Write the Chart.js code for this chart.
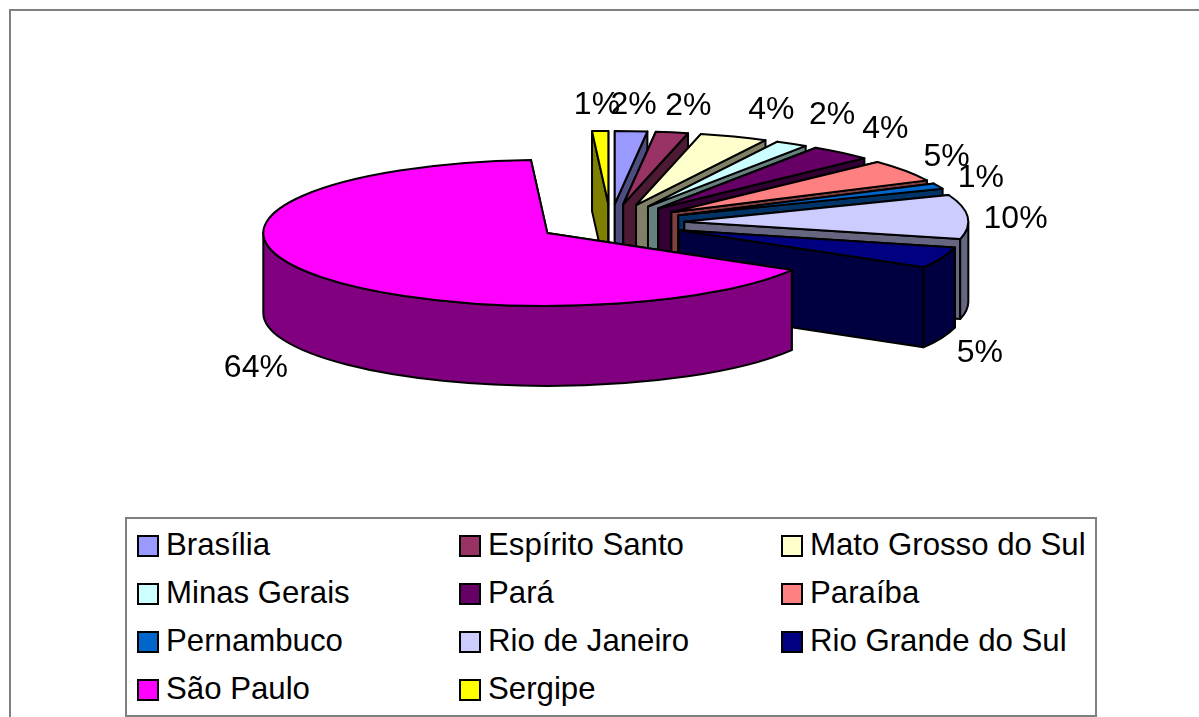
<!DOCTYPE html>
<html lang="pt">
<head>
<meta charset="utf-8">
<title>Pie by state</title>
<script src="https://cdn.jsdelivr.net/npm/chart.js@4/dist/chart.umd.min.js"></script>
<style>
  html, body { margin: 0; padding: 0; background: #fff; overflow: hidden; }
  #wrap { position: relative; width: 1199px; height: 717px; overflow: hidden; font-family: "Liberation Sans", Arial, sans-serif; }
  #frame { position: absolute; left: 9px; top: 9px; width: 1300px; height: 800px; border: 2px solid #808080; }
  #pie { position: absolute; left: 0; top: 0; }
  #legend { position: absolute; left: 125px; top: 517px; width: 968px; height: 196px; border: 2px solid #808080; background: #fff; }
  .item { position: absolute; height: 48px; line-height: 48px; font-size: 31.2px; color: #000; white-space: nowrap; }
  .item i { position: absolute; left: 0; top: 14px; width: 18px; height: 18px; border: 2px solid #000; }
  .item span { position: absolute; left: 29px; top: 0; }
</style>
</head>
<body>
<div id="wrap">
  <div id="frame"></div>
  <canvas id="pie" width="1199" height="717"></canvas>
  <div id="legend"></div>
</div>
<script>
const states = ['Brasília', 'Espírito Santo', 'Mato Grosso do Sul', 'Minas Gerais', 'Pará', 'Paraíba',
  'Pernambuco', 'Rio de Janeiro', 'Rio Grande do Sul', 'São Paulo', 'Sergipe'];
const shares = [1.8, 1.8, 3.8, 1.8, 3.5, 4.8, 1.2, 9.6, 4.6, 64.4, 0.9];
const colors = ['#9999FF', '#993366', '#FFFFCC', '#CCFFFF', '#660066', '#FF8080',
  '#0066CC', '#CCCCFF', '#000080', '#FF00FF', '#FFFF00'];

const squash = 0.257;   // top face ellipse ratio
const depth = 80;       // wall height
const explode = 74;     // how far each slice is pulled out

/* small label corrections on top of the radial placement, same order as states */
const labelNudge = [[0, 2], [9, 1], [23, 0], [19, -5], [17, -3], [7, 2], [4, 2], [6, 2], [-1, 2], [-13, 4], [-2, 2]];

function shade(hex) {
  const n = parseInt(hex.slice(1), 16);
  const half = (v) => Math.round(v * 0.5);
  return `rgb(${half(n >> 16)},${half((n >> 8) & 255)},${half(n & 255)})`;
}

function sliceGeometry(arc) {
  const p = arc.getProps(['x', 'y', 'startAngle', 'endAngle', 'outerRadius']);
  const mid = (p.startAngle + p.endAngle) / 2;
  return {
    cx: p.x + Math.cos(mid) * explode,
    cy: p.y + Math.sin(mid) * explode * squash,
    r: p.outerRadius,
    start: p.startAngle,
    end: p.endAngle,
    mid
  };
}

function rimPoint(g, angle) {
  return [g.cx + Math.cos(angle) * g.r, g.cy + Math.sin(angle) * g.r * squash];
}

function drawCutFace(ctx, g, angle) {
  const [x, y] = rimPoint(g, angle);
  ctx.beginPath();
  ctx.moveTo(g.cx, g.cy);
  ctx.lineTo(x, y);
  ctx.lineTo(x, y + depth);
  ctx.lineTo(g.cx, g.cy + depth);
  ctx.closePath();
  ctx.fill();
  ctx.stroke();
}

function drawOuterWall(ctx, g) {
  // only the part of the rim that faces the viewer
  const a0 = Math.max(g.start, 0);
  const a1 = Math.min(g.end, Math.PI);
  if (a1 <= a0) return;
  ctx.beginPath();
  ctx.ellipse(g.cx, g.cy, g.r, g.r * squash, 0, a0, a1);
  ctx.ellipse(g.cx, g.cy + depth, g.r, g.r * squash, 0, a1, a0, true);
  ctx.closePath();
  ctx.fill();
  ctx.stroke();
}

function drawTop(ctx, g) {
  ctx.beginPath();
  ctx.moveTo(g.cx, g.cy);
  ctx.ellipse(g.cx, g.cy, g.r, g.r * squash, 0, g.start, g.end);
  ctx.closePath();
  ctx.fill();
  ctx.stroke();
}

function drawLabel(ctx, g, value, i) {
  const [x, y] = rimPoint(g, g.mid);
  const sin = Math.sin(g.mid);
  const lx = x + Math.cos(g.mid) * 42 + labelNudge[i][0];
  const ly = (sin > 0 ? y + depth + 13 : y - 30 * Math.abs(sin) + 2) + labelNudge[i][1];
  ctx.fillText(Math.round(value) + '%', lx, ly);
}

/* Chart.js only knows flat pies, so the arcs it lays out get drawn as extruded slices */
const pie3d = {
  id: 'pie3d',
  beforeDatasetsDraw(chart) {
    const ctx = chart.ctx;
    const arcs = chart.getDatasetMeta(0).data;
    const slices = arcs.map((arc, i) => ({ i, g: sliceGeometry(arc) }));
    // back to front
    slices.sort((a, b) => Math.sin(a.g.mid) - Math.sin(b.g.mid));

    ctx.save();
    ctx.lineWidth = 2;
    ctx.lineJoin = 'round';
    ctx.strokeStyle = '#000';
    slices.forEach(({ i, g }) => {
      ctx.fillStyle = shade(colors[i]);
      drawCutFace(ctx, g, g.start);
      drawCutFace(ctx, g, g.end);
      drawOuterWall(ctx, g);
      ctx.fillStyle = colors[i];
      drawTop(ctx, g);
    });
    ctx.fillStyle = '#000';
    ctx.font = '32px "Liberation Sans", Arial, sans-serif';
    ctx.textAlign = 'center';
    ctx.textBaseline = 'middle';
    slices.forEach(({ i, g }) => drawLabel(ctx, g, shares[i], i));
    ctx.restore();
    return false;
  }
};

new Chart(document.getElementById('pie'), {
  type: 'pie',
  data: {
    labels: states,
    datasets: [{ data: shares, backgroundColor: colors, borderWidth: 0 }]
  },
  options: {
    responsive: false,
    animation: false,
    radius: 284,
    rotation: 0,
    layout: { padding: { left: 22, right: 0, top: 0, bottom: 271 } },
    plugins: { legend: { display: false }, tooltip: { enabled: false } }
  },
  plugins: [pie3d]
});

/* html legend, three columns filled row by row */
const legendEl = document.getElementById('legend');
states.forEach((name, i) => {
  const item = document.createElement('div');
  item.className = 'item';
  item.style.left = (10 + (i % 3) * 322) + 'px';
  item.style.top = (2 + Math.floor(i / 3) * 48) + 'px';
  const box = document.createElement('i');
  box.style.background = colors[i];
  const text = document.createElement('span');
  text.innerText = name;
  item.appendChild(box);
  item.appendChild(text);
  legendEl.appendChild(item);
});
</script>
</body>
</html>
